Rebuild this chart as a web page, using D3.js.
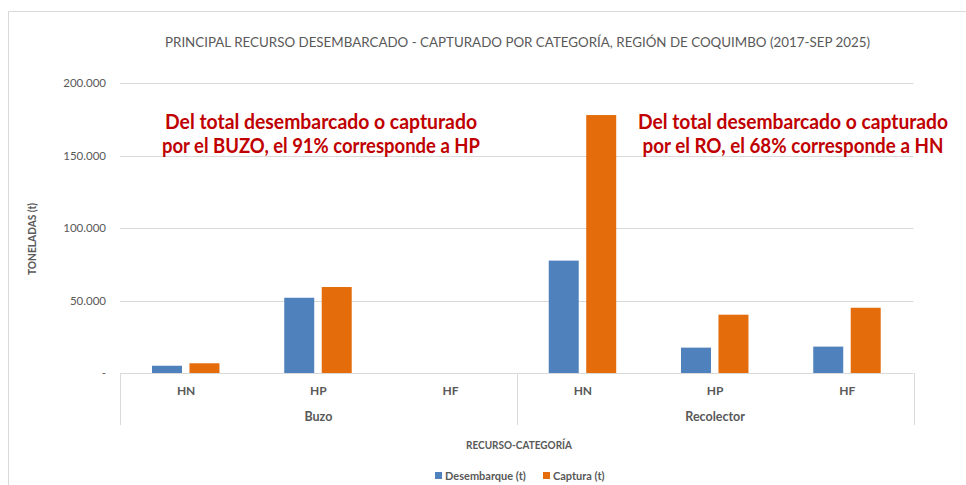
<!DOCTYPE html>
<html lang="es">
<head>
<meta charset="UTF-8">
<title>Principal recurso desembarcado - capturado</title>
<script src="https://d3js.org/d3.v7.min.js"></script>
<style>
  body { margin: 0; background: #fff; }
  text { font-family: Lato, "Open Sans", sans-serif; }
</style>
</head>
<body>
<div id="chart"></div>
<script>
// data
var groups = ["Buzo", "Recolector"];
var subCats = ["HN", "HP", "HF"];
var seriesNames = ["Desembarque (t)", "Captura (t)"];
var desembarque = [5000, 51900, 0, 77500, 17500, 18200];   // Buzo HN,HP,HF, Recolector HN,HP,HF
var captura = [6700, 59300, 0, 177900, 40200, 45000];
var yTicks = [0, 50000, 100000, 150000, 200000];
var notes = [
  ["Del total desembarcado o capturado", "por el BUZO, el 91% corresponde a HP"],
  ["Del total desembarcado o capturado", "por el RO, el 68% corresponde a HN"]
];

var colors = ["#4f81bd", "#e46c0a"];
var textCol = "#595959";
var gridCol = "#d9d9d9";

var W = 966, H = 485;
var plot = {left: 120, right: 913.5, top: 83, bottom: 373};

var svg = d3.select("#chart").append("svg")
  .attr("width", W).attr("height", H);

// chart border (only top and left visible in the reference)
svg.append("path")
  .attr("d", "M8.5," + H + "V11.5H" + W)
  .attr("fill", "none").attr("stroke", gridCol);

// build rows
var rows = [];
groups.forEach(function(g, gi) {
  subCats.forEach(function(s, si) {
    var i = gi * subCats.length + si;
    rows.push({key: g + "-" + s, group: g, sub: s, vals: [desembarque[i], captura[i]]});
  });
});

var x0 = d3.scaleBand().domain(rows.map(function(d) { return d.key; }))
  .range([plot.left, plot.right]).padding(0);
var bw = x0.bandwidth();
var x1 = d3.scaleBand().domain(seriesNames)
  .range([bw * 32 / 132.3, bw * 99.5 / 132.3]).paddingInner(0.2);
var y = d3.scaleLinear().domain([0, 200000]).range([plot.bottom, plot.top]);

var loc = d3.formatLocale({decimal: ",", thousands: ".", grouping: [3], currency: ["$", ""]});
var fmt = loc.format(",.0f");

// gridlines
svg.append("g").selectAll("line").data(yTicks.filter(function(t) { return t > 0; }))
  .enter().append("line")
  .attr("x1", plot.left).attr("x2", plot.right)
  .attr("y1", function(d) { return Math.round(y(d)) + 0.5; })
  .attr("y2", function(d) { return Math.round(y(d)) + 0.5; })
  .attr("stroke", gridCol).attr("stroke-width", 1);

// y axis labels
var yAxis = svg.append("g")
  .attr("transform", "translate(" + (plot.left - 5) + ",0)")
  .call(d3.axisLeft(y).tickValues(yTicks).tickSize(0).tickPadding(9)
    .tickFormat(function(d) { return d === 0 ? "-" : fmt(d); }));
yAxis.select(".domain").remove();
yAxis.selectAll("text").attr("fill", textCol).style("font-size", "11.5px")
  .style("font-family", "Lato, sans-serif");

// bars
var bars = svg.append("g");
rows.forEach(function(r) {
  bars.selectAll(null).data(r.vals.filter(function(v) { return v > 0; }).map(function(v, i) { return {name: seriesNames[i], v: v, i: i}; }))
    .enter().append("rect")
    .attr("x", function(d) { return x0(r.key) + x1(d.name); })
    .attr("width", x1.bandwidth())
    .attr("y", function(d) { return y(d.v); })
    .attr("height", function(d) { return y(0) - y(d.v); })
    .attr("fill", function(d) { return colors[d.i]; });
});

// category axis: baseline and group separators
var axisG = svg.append("g");
axisG.append("line")
  .attr("x1", plot.left).attr("x2", plot.right)
  .attr("y1", plot.bottom + 0.5).attr("y2", plot.bottom + 0.5)
  .attr("stroke", gridCol);
var sepX = [plot.left];
groups.forEach(function(g) { sepX.push(x0(g + "-" + subCats[subCats.length - 1]) + bw); });
axisG.selectAll(".sep").data(sepX).enter().append("line")
  .attr("x1", function(d) { return Math.round(d) + 0.5; })
  .attr("x2", function(d) { return Math.round(d) + 0.5; })
  .attr("y1", plot.bottom).attr("y2", plot.bottom + 52)
  .attr("stroke", gridCol);

axisG.selectAll(".sub").data(rows).enter().append("text")
  .attr("x", function(d) { return x0(d.key) + bw / 2; })
  .attr("y", plot.bottom + 22)
  .attr("text-anchor", "middle").attr("fill", textCol)
  .style("font-size", "12px").style("font-weight", "bold")
  .text(function(d) { return d.sub; });

axisG.selectAll(".grp").data(groups).enter().append("text")
  .attr("x", function(g) { return (x0(g + "-" + subCats[0]) + x0(g + "-" + subCats[2]) + bw) / 2; })
  .attr("y", plot.bottom + 48)
  .attr("text-anchor", "middle").attr("fill", textCol)
  .style("font-size", "12.5px").style("font-weight", "bold")
  .text(function(g) { return g; });

// title
svg.append("text")
  .attr("x", 517.5).attr("y", 47)
  .attr("text-anchor", "middle").attr("fill", textCol)
  .attr("textLength", 705).attr("lengthAdjust", "spacingAndGlyphs")
  .style("font-size", "14px")
  .text("PRINCIPAL RECURSO DESEMBARCADO - CAPTURADO POR CATEGORÍA, REGIÓN DE COQUIMBO (2017-SEP 2025)");

// axis titles
svg.append("text")
  .attr("transform", "translate(36,239) rotate(-90)")
  .attr("text-anchor", "middle").attr("fill", textCol)
  .attr("textLength", 72).attr("lengthAdjust", "spacingAndGlyphs")
  .style("font-size", "11px").style("font-weight", "bold")
  .text("TONELADAS (t)");

svg.append("text")
  .attr("x", 519).attr("y", 449)
  .attr("text-anchor", "middle").attr("fill", textCol)
  .attr("textLength", 106).attr("lengthAdjust", "spacingAndGlyphs")
  .style("font-size", "10.5px").style("font-weight", "bold")
  .text("RECURSO-CATEGORÍA");

// annotations
var noteX = [321, 793];
var noteLen = [[312, 318], [310, 301]];
notes.forEach(function(lines, ni) {
  lines.forEach(function(line, li) {
    svg.append("text")
      .attr("x", noteX[ni]).attr("y", 129 + li * 24)
      .attr("text-anchor", "middle").attr("fill", "#c00000")
      .attr("textLength", noteLen[ni][li]).attr("lengthAdjust", "spacingAndGlyphs")
      .style("font-size", "21px").style("font-weight", "bold")
      .text(line);
  });
});

// legend
var legX = [435, 543];
var leg = svg.append("g");
seriesNames.forEach(function(n, i) {
  leg.append("rect").attr("x", legX[i]).attr("y", 472)
    .attr("width", 7).attr("height", 7).attr("fill", colors[i]);
  leg.append("text").attr("x", legX[i] + 10).attr("y", 479.5)
    .attr("fill", textCol).style("font-size", "11px").style("font-weight", "bold")
    .text(n);
});
</script>
</body>
</html>
